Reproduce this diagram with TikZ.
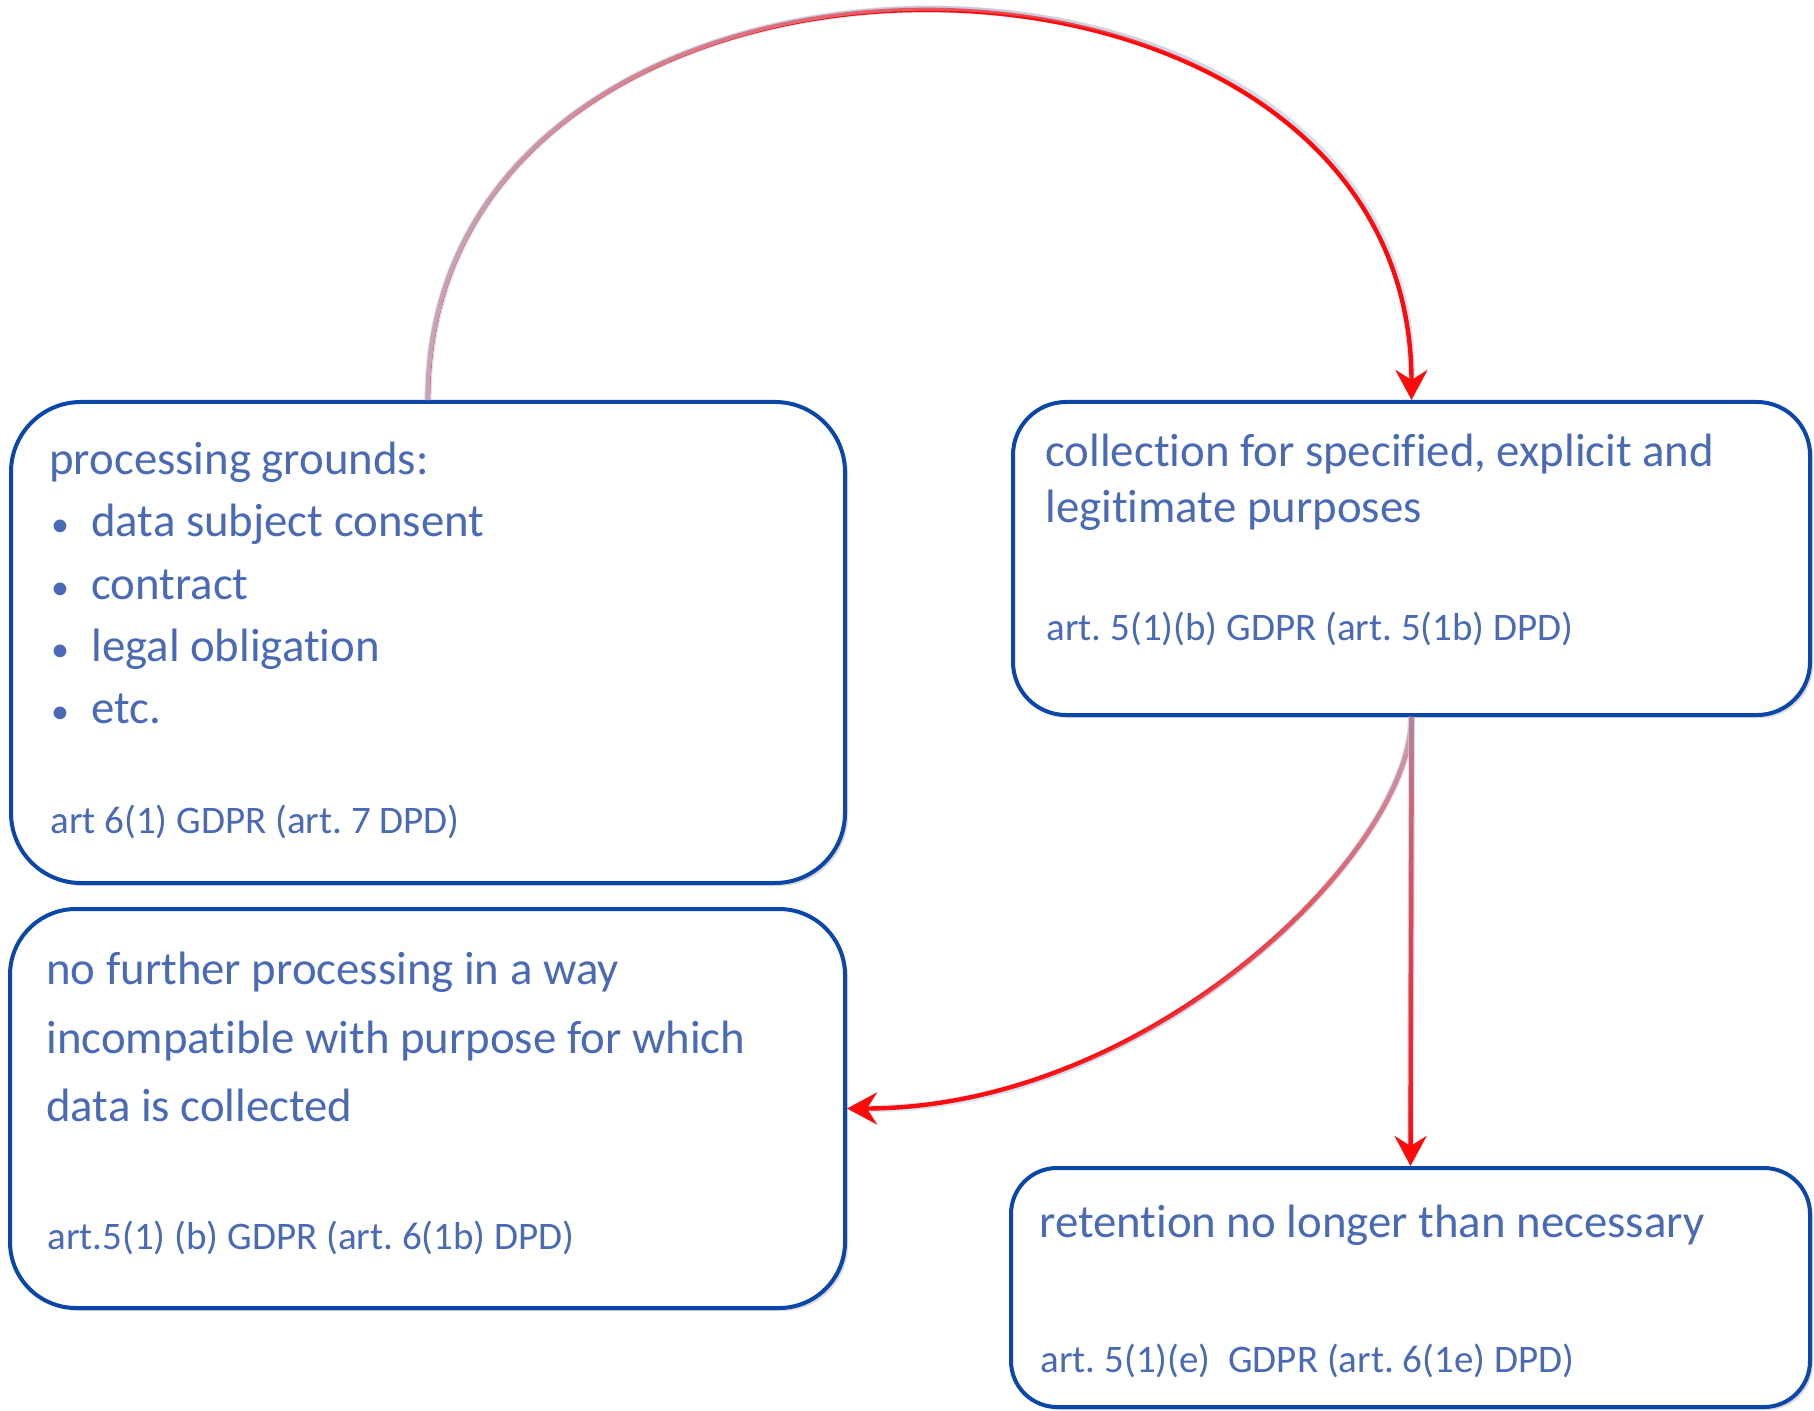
\documentclass[tikz,border=0pt]{standalone}
\usepackage{fontspec}
\setmainfont{Carlito}[Ligatures=CommonOff]
\usetikzlibrary{arrows.meta,shadows,fadings,calc}
\definecolor{boxblue}{HTML}{0B47A8}
\definecolor{txtblue}{RGB}{74,106,182}
\definecolor{arrstart}{HTML}{C7A6B8}
\definecolor{arrstartdark}{HTML}{B98398}
\definecolor{arrred}{HTML}{FF0A0A}
\definecolor{glowblue}{RGB}{190,210,236}
\tikzfading[name=fadeRL, left color=transparent!0, right color=transparent!100]
\tikzfading[name=fadeBT, top color=transparent!0, bottom color=transparent!100]
\tikzset{
  box/.style={draw=boxblue, line width=2pt, fill=white, inner sep=0pt,
    drop shadow={shadow xshift=1.5pt, shadow yshift=-1.5pt, opacity=0.3}},
  big/.style={text=txtblue, inner sep=0pt, anchor=base west, font=\fontsize{23.4}{28}\selectfont},
  small/.style={big, font=\fontsize{19.5}{23}\selectfont},
  bullet/.style={big, anchor=base, font=\fontsize{18}{18}\selectfont},
  conn/.style={line width=2.2pt, arrred, -{Stealth[length=15pt,width=16pt,inset=5pt]}},
  fadeline/.style={line width=2.3pt, shorten >=16pt},
  glow/.style={line width=3.6pt, draw=glowblue, opacity=0.6, shorten >=12pt},
}
\begin{document}
\frenchspacing
\begin{tikzpicture}[x=0.5pt,y=-0.5pt]
\useasboundingbox (0,0) rectangle (1814,1411);

% boxes
\node[box, rounded corners=35pt, minimum width=417pt, minimum height=240.5pt] (A) at (428,642.5) {};
\node[box, rounded corners=26.5pt, minimum width=398.5pt, minimum height=156.5pt] (B) at (1411.5,558.5) {};
\node[box, rounded corners=33pt, minimum width=417.5pt, minimum height=199.5pt] (C) at (427.5,1108.5) {};
\node[box, rounded corners=23pt, minimum width=399.5pt, minimum height=119.5pt] (D) at (1410.5,1287.5) {};

% box A text
\node[big] (a0) at (49,475) {processing grounds:};
\node[bullet] (ab1) at (60,537) {•};
\node[bullet] (ab2) at (60,599) {•};
\node[bullet] (ab3) at (60,661) {•};
\node[bullet] (ab4) at (60,723) {•};
\node[big] (a1) at (91,537) {data subject consent};
\node[big] (a2) at (91,599) {contract};
\node[big] (a3) at (91,661) {legal obligation};
\node[big] (a4) at (91,723) {etc.};
\node[small] (a5) at (50,833) {art 6(1) GDPR (art. 7 DPD)};

% box B text
\node[big] (b0) at (1045,467) {collection for specified, explicit and};
\node[big] (b1) at (1045,523) {legitimate purposes};
\node[small] (b2) at (1046,640) {art. 5(1)(b) GDPR (art. 5(1b) DPD)};

% box C text
\node[big] (c0) at (46,984) {no further processing in a way};
\node[big] (c1) at (46,1053) {incompatible with purpose for which};
\node[big] (c2) at (46,1121) {data is collected};
\node[small] (c3) at (47,1249) {art.5(1) (b) GDPR (art. 6(1b) DPD)};

% box D text
\node[big] (d0) at (1039,1237) {retention no longer than necessary};
\node[small] (d1) at (1040,1372) {art. 5(1)(e)\ \ GDPR (art. 6(1e) DPD)};

% connectors
\draw[glow] (A.north) .. controls +(0,-517) and +(0,-517) .. (B.north);
\draw[conn] (A.north) .. controls +(0,-517) and +(0,-517) .. (B.north);
\draw[fadeline, arrstart, path fading=fadeRL] (A.north) .. controls +(0,-517) and +(0,-517) .. (B.north);

\draw[glow] (B.south) .. controls +(0,135) and +(303,0) .. (C.east);
\draw[conn] (B.south) .. controls +(0,135) and +(303,0) .. (C.east);
\draw[fadeline, arrstart, path fading=fadeBT] (B.south) .. controls +(0,135) and +(303,0) .. (C.east);

\draw[glow] (B.south) -- (D.north);
\draw[conn] (B.south) -- (D.north);
\draw[fadeline, arrstartdark, path fading=fadeBT] (B.south) -- (D.north);
\end{tikzpicture}
\end{document}
